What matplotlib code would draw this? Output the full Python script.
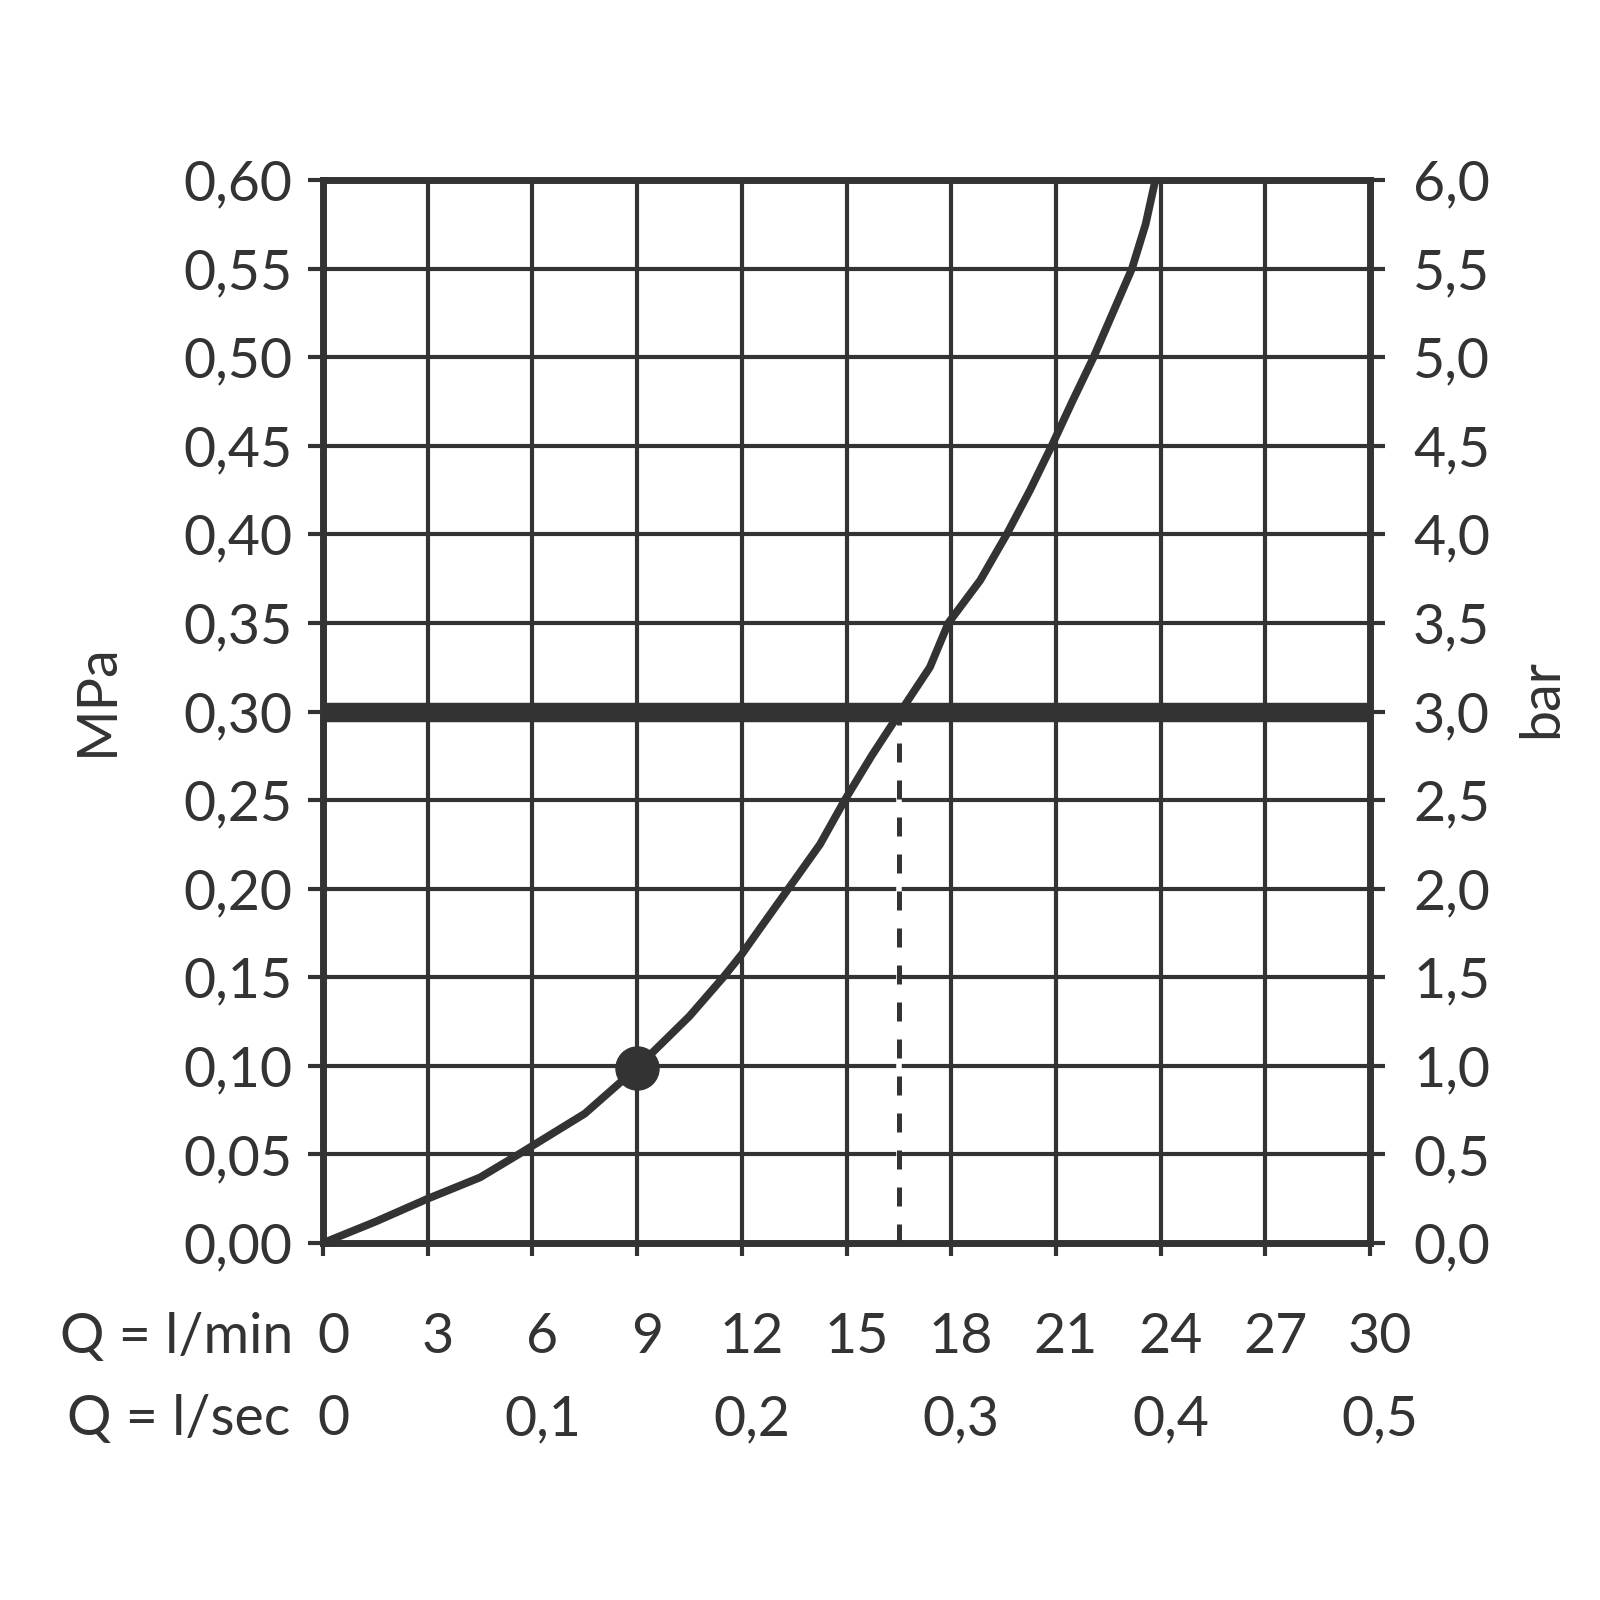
import matplotlib
matplotlib.use("Agg")
import matplotlib.pyplot as plt
import matplotlib.transforms as mtransforms

# flow / pressure curve (l/min, MPa)
flow_lpm = [0, 1.5, 3, 4.5, 5.6, 7.5, 9, 10.5, 11.47, 12, 12.43, 13.3, 14.24, 14.95,
            15.72, 16.55, 17.39, 17.92, 18.83, 19.59, 20.26, 20.88, 21.47, 22.08, 22.63,
            23.18, 23.57, 23.85]
press_mpa = [0, 0.012, 0.025, 0.037, 0.05, 0.073, 0.099, 0.128, 0.15, 0.163, 0.175, 0.199,
             0.225, 0.25, 0.275, 0.30, 0.325, 0.35, 0.374, 0.40, 0.425, 0.45, 0.475, 0.50,
             0.525, 0.55, 0.575, 0.60]

marker_q = 9
marker_p = 0.099
ref_p = 0.30      # thick reference line
ref_q = 16.5      # dashed drop line

lpm_ticks = [0, 3, 6, 9, 12, 15, 18, 21, 24, 27, 30]
lps_ticks = [0, 6, 12, 18, 24, 30]
lps_labels = ['0', '0,1', '0,2', '0,3', '0,4', '0,5']
mpa_ticks = [0.00, 0.05, 0.10, 0.15, 0.20, 0.25, 0.30, 0.35, 0.40, 0.45, 0.50, 0.55, 0.60]
bar_ticks = [0.0, 0.5, 1.0, 1.5, 2.0, 2.5, 3.0, 3.5, 4.0, 4.5, 5.0, 5.5, 6.0]

ink = '#333333'
fs = 40
plt.rcParams['font.family'] = ['Lato', 'DejaVu Sans']
plt.rcParams['font.weight'] = 'normal'
plt.rcParams['text.color'] = ink

fig = plt.figure(figsize=(16, 16), dpi=100)
ax = fig.add_axes([323/1600, 1 - 1243/1600, 1047/1600, 1063/1600])
ax.set_xlim(0, 30)
ax.set_ylim(0, 0.6)

# grid
for q in lpm_ticks:
    ax.axvline(q, color=ink, lw=3, zorder=0.5)
for p in mpa_ticks:
    ax.axhline(p, color=ink, lw=3, zorder=0.5)

# dashed drop line with white gaps
ax.plot([ref_q, ref_q], [0, ref_p], color='white', lw=4, zorder=1)
ax.plot([ref_q, ref_q], [0, ref_p], color=ink, lw=3.6, linestyle=(0, (3.8, 3.6)), zorder=2)

ax.plot(flow_lpm, press_mpa, color=ink, lw=5.6, zorder=3,
        solid_capstyle='round', solid_joinstyle='round')
ax.axhline(ref_p, color=ink, lw=14, zorder=3)
ax.plot([marker_q], [marker_p], 'o', color=ink, markersize=31, zorder=4)

ax.set_xticks(lpm_ticks)
ax.set_yticks(mpa_ticks)
ax.set_yticklabels([f'{v:.2f}'.replace('.', ',') for v in mpa_ticks])
ax.tick_params(axis='y', length=11, width=3, color=ink, pad=11, labelsize=fs, labelcolor=ink)
ax.tick_params(axis='x', length=9, width=3, color=ink, labelbottom=False)

ax2 = ax.twinx()
ax2.set_ylim(0, 6)
ax2.set_yticks(bar_ticks)
ax2.set_yticklabels([f'{v:.1f}'.replace('.', ',') for v in bar_ticks])
ax2.tick_params(axis='y', length=11, width=3, color=ink, pad=20, labelsize=fs, labelcolor=ink)

for a in (ax, ax2):
    for s in a.spines.values():
        s.set_linewidth(4.8)
        s.set_color(ink)

# bottom labels, two rows
trans = mtransforms.blended_transform_factory(ax.transData, fig.transFigure)
trans = mtransforms.offset_copy(trans, fig=fig, x=10, y=0, units='dots')
for q in lpm_ticks:
    ax.text(q, 1 - 1353/1600, str(q), transform=trans, ha='center', va='baseline', fontsize=fs)
for q, lab in zip(lps_ticks, lps_labels):
    ax.text(q, 1 - 1435/1600, lab, transform=trans, ha='center', va='baseline', fontsize=fs)
fig.text(293/1600, 1 - 1353/1600, 'Q = l/min', ha='right', va='baseline', fontsize=fs)
fig.text(290/1600, 1 - 1435/1600, 'Q = l/sec', ha='right', va='baseline', fontsize=fs)

fig.text(97/1600, 1 - 700/1600, 'MPa', rotation=90, ha='center', va='center', fontsize=fs)
fig.text(1542/1600, 1 - 698/1600, 'bar', rotation=90, ha='center', va='center', fontsize=fs)

fig.savefig('out.png', dpi=100, facecolor='white')
